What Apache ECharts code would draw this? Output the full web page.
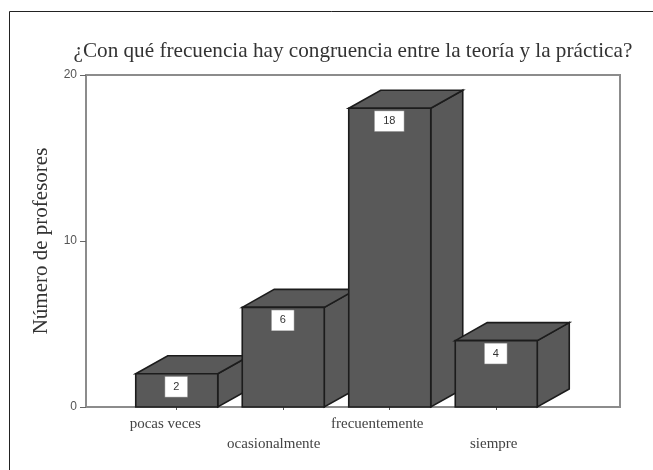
<!DOCTYPE html>
<html><head><meta charset="utf-8">
<style>html,body{margin:0;padding:0;background:#fff;overflow:hidden}#c{width:653px;height:470px}</style>
<script src="https://cdn.jsdelivr.net/npm/echarts@6/dist/echarts.min.js"></script>
</head><body><div id="c"></div>
<script>
const categories = ['pocas veces', 'ocasionalmente', 'frecuentemente', 'siempre'];
const values = [2, 6, 18, 4];
const yTicks = [0, 10, 20];
const titleText = '¿Con qué frecuencia hay congruencia entre la teoría y la práctica?';
const yName = 'Número de profesores';

const chart = echarts.init(document.getElementById('c'), null, {renderer: 'canvas'});
const serif = '"Liberation Serif", "Times New Roman", serif';
const sans = '"Liberation Sans", Arial, sans-serif';
const DX = 32, DY = 18, FILL = '#595959', EDGE = '#1c1c1c';
// the reference sets its category labels a little left of their ticks
const labelShiftLeft = [11, 9, 12, 2];

function renderBar(params, api) {
  const i = api.value(0), v = api.value(1);
  const top = api.coord([i, v]), base = api.coord([i, 0]);
  const w = api.size([1, 0])[0] * 0.77;
  const l = top[0] - w / 2 + 0.5, r = top[0] + w / 2 + 0.5, t = top[1], b = base[1];
  const st = {fill: FILL, stroke: EDGE, lineWidth: 1.6};
  const txt = String(v);
  const boxW = txt.length > 1 ? 30 : 23;
  return {type: 'group', children: [
    {type: 'polygon', shape: {points: [[r, t], [r + DX, t - DY], [r + DX, b - DY], [r, b]]}, style: st},
    {type: 'polygon', shape: {points: [[l, t], [l + DX, t - DY], [r + DX, t - DY], [r, t]]}, style: st},
    {type: 'rect', shape: {x: l, y: t, width: w, height: b - t}, style: st},
    {type: 'rect', shape: {x: top[0] - boxW / 2, y: t + 2.5, width: boxW, height: 21},
      style: {fill: '#fff', stroke: '#555', lineWidth: 0.5}},
    {type: 'text', style: {x: top[0], y: t + 13, text: txt, align: 'center', verticalAlign: 'middle',
      font: '11px ' + sans, fill: '#333'}}
  ]};
}

const rich = {};
labelShiftLeft.forEach((s, i) => { rich['c' + i] = {padding: [0, s * 2, 0, 0]}; });

chart.setOption({
  animation: false,
  backgroundColor: '#fff',
  title: {text: titleText, left: 68.5, top: 36,
    textStyle: {fontFamily: serif, fontSize: 21.2, fontWeight: 'normal', color: '#333'}},
  graphic: [{type: 'rect', z: -10, shape: {x: 9.5, y: 11.5, width: 700, height: 600},
    style: {fill: 'none', stroke: '#222', lineWidth: 1}}],
  grid: [
    {left: 86, right: 33, top: 75, bottom: 63, show: true, backgroundColor: 'transparent', borderColor: '#8c8c8c', borderWidth: 2},
    {left: 123, right: 104, top: 75, bottom: 63, show: false}
  ],
  xAxis: [
    {gridIndex: 0, type: 'value', min: 0, max: 1, show: false},
    {gridIndex: 1, type: 'category', data: categories,
      axisLine: {show: false},
      axisTick: {show: true, alignWithLabel: true, length: 3, lineStyle: {color: '#555'}},
      axisLabel: {interval: 0, margin: 7, color: '#444', fontFamily: serif, fontSize: 15, lineHeight: 20,
        formatter: (s, i) => {
          const k = categories.indexOf(s);
          return (k % 2 ? '\n' : '') + '{c' + k + '|' + s + '}';
        }, rich}}
  ],
  yAxis: [
    {gridIndex: 0, type: 'value', min: 0, max: 20, interval: 10, name: yName, nameLocation: 'middle', nameGap: 34,
      nameTextStyle: {fontFamily: serif, fontSize: 21, color: '#333'},
      axisLine: {show: false},
      axisTick: {show: true, length: 6, lineStyle: {color: '#666'}},
      splitLine: {show: false},
      axisLabel: {margin: 9, color: '#555', fontFamily: sans, fontSize: 12}},
    {gridIndex: 1, type: 'value', min: 0, max: 20, interval: 10, show: false, splitLine: {show: false}}
  ],
  series: [{type: 'custom', xAxisIndex: 1, yAxisIndex: 1, clip: false,
    encode: {x: 0, y: 1},
    data: values.map((v, i) => [i, v]), renderItem: renderBar}]
});
</script></body></html>
